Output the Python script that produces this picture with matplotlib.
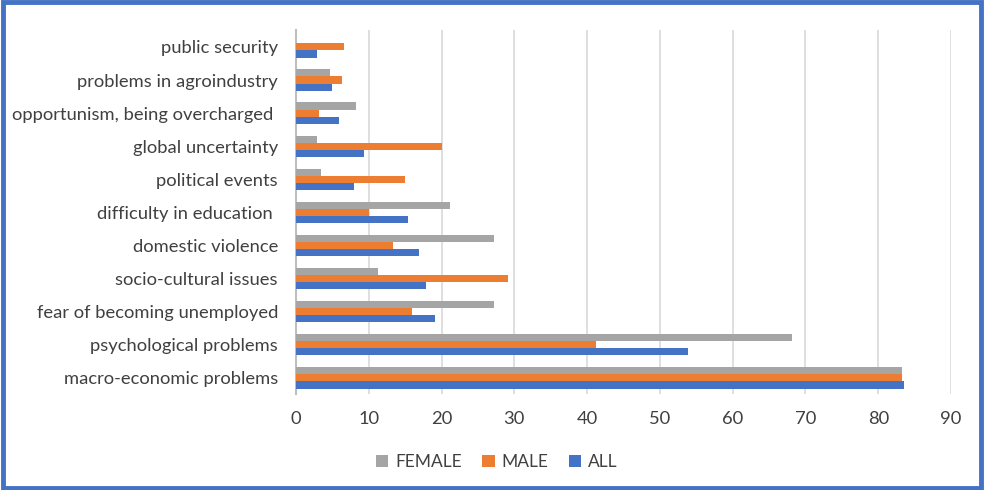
import numpy as np
import matplotlib
matplotlib.use("Agg")
import matplotlib.pyplot as plt
from matplotlib.patches import Rectangle

# categories listed bottom to top
categories = [
    "macro-economic problems",
    "psychological problems",
    "fear of becoming unemployed",
    "socio-cultural issues",
    "domestic violence",
    "difficulty in education ",
    "political events",
    "global uncertainty",
    "opportunism, being overcharged ",
    "problems in agroindustry",
    "public security",
]
female = [83.3, 68.2, 27.2, 11.2, 27.2, 21.1, 3.4, 2.9, 8.3, 4.7, 0.0]
male = [83.3, 41.2, 16.0, 29.1, 13.3, 10.0, 15.0, 20.0, 3.2, 6.3, 6.6]
all_ = [83.6, 53.8, 19.1, 17.8, 16.9, 15.4, 8.0, 9.4, 5.9, 4.9, 2.9]

series_names = ["FEMALE", "MALE", "ALL"]
colors = ["#A5A5A5", "#ED7D31", "#4472C4"]

plt.rcParams['font.family'] = ['Lato', 'DejaVu Sans']

fig = plt.figure(figsize=(9.84, 4.9), dpi=100)
ax = fig.add_axes([0.3008, 0.195, 0.9665 - 0.3008, 0.743])

y = np.arange(len(categories))
h = 0.215
for vals, off, col, name in zip([female, male, all_], [h, 0, -h], colors, series_names):
    ax.barh(y + off, vals, height=h, color=col, label=name, zorder=3)

ax.set_xlim(0, 90)
ax.set_ylim(-0.5, len(categories) - 0.5)
ax.set_xticks(range(0, 91, 10))
ax.set_yticks(y)
ax.set_yticklabels(categories)
ax.tick_params(axis='both', length=0, labelsize=13.2, colors="#404040")
ax.tick_params(axis='x', pad=12)
ax.tick_params(axis='y', pad=13)
ax.grid(axis='x', color="#D9D9D9", linewidth=1.2, zorder=0)
for s in ['top', 'right', 'bottom']:
    ax.spines[s].set_visible(False)
ax.spines['left'].set_color("#BFBFBF")
ax.spines['left'].set_linewidth(1.5)

leg = fig.legend(loc='center', bbox_to_anchor=(0.505, 0.057), ncol=3, frameon=False,
                 fontsize=12.5, handlelength=0.7, handleheight=0.7, columnspacing=1.2,
                 handletextpad=0.4)
for t in leg.get_texts():
    t.set_color("#404040")

# blue frame around the whole picture
fig.patches.append(Rectangle((0.003, 0.005), 0.994, 0.99, transform=fig.transFigure,
                             fill=False, edgecolor="#4472C4", linewidth=3.5))

fig.savefig("out.png", dpi=100)
